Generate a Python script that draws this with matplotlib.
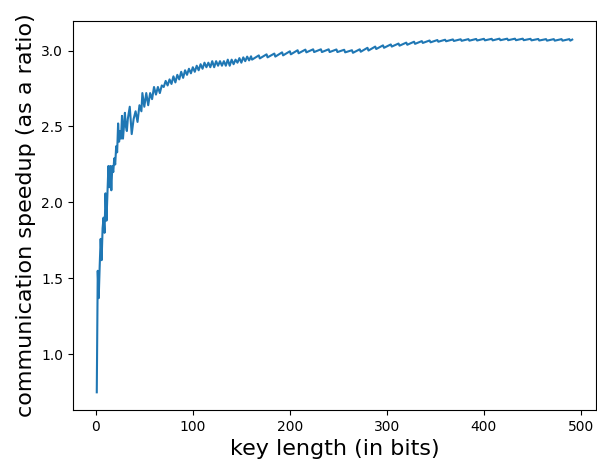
import matplotlib
matplotlib.use("Agg")
import matplotlib.pyplot as plt

# ============================================================
# DATA
# ============================================================

key_len = [
    1, 2, 3, 4, 5, 6, 7, 8, 9, 10, 11, 12, 13, 14, 15, 16, 17, 18, 19, 20,
    21, 22, 23, 24, 25, 26, 27, 28, 29, 30, 31, 32, 33, 35, 37, 39, 41, 43,
    45, 47, 48, 50, 52, 54, 56, 58, 60,
    62, 64, 66, 68, 70, 72, 74, 76, 78, 80,
    82, 84, 86, 88, 90, 92, 94, 96, 98, 100,
    102, 104, 106, 108, 110, 112, 114, 116, 118, 120,
    122, 124, 126, 128, 130, 132, 134, 136, 138, 140,
    142, 144, 146, 148, 150, 152, 154, 156, 158,
    160, 161, 168, 169, 176, 177, 184, 185, 192, 193,
    200, 201, 208, 209, 216, 217, 224, 225, 232, 233,
    240, 241, 248, 249, 256, 257, 264, 265, 272, 273,
    280, 281, 288, 289, 296, 297, 304, 305, 312, 313,
    320, 321, 328, 329, 336, 337, 344, 345, 352, 353,
    360, 361, 368, 369, 376, 377, 384, 385, 392, 393,
    400, 401, 408, 409, 416, 417, 424, 425, 432, 433,
    440, 441, 448, 449, 456, 457, 464, 465, 472, 473,
    480, 481, 488, 489,
    491,
]

speedup = [
    0.75, 1.55, 1.37, 1.58, 1.76, 1.62, 1.83, 1.90, 1.80, 2.06, 1.88, 2.06,
    2.24, 2.10, 2.24, 2.08, 2.24, 2.20, 2.29, 2.25,
    2.37, 2.33, 2.52, 2.40, 2.47, 2.42, 2.57, 2.42, 2.50, 2.59, 2.50, 2.47,
    2.55, 2.63, 2.45, 2.55, 2.60, 2.53,
    2.64, 2.60, 2.72, 2.63, 2.72, 2.64, 2.72, 2.68, 2.76,
    2.71, 2.76, 2.72, 2.77, 2.76, 2.80, 2.77, 2.81, 2.78, 2.83,
    2.79, 2.84, 2.81, 2.86, 2.82, 2.87, 2.84, 2.88, 2.85, 2.89,
    2.86, 2.90, 2.87, 2.91, 2.88, 2.92, 2.89, 2.92, 2.89, 2.93,
    2.89, 2.93, 2.90, 2.93, 2.90, 2.93, 2.90, 2.94, 2.90, 2.94,
    2.91, 2.94, 2.92, 2.95, 2.92, 2.955, 2.93, 2.96, 2.935,
    2.962, 2.940, 2.968, 2.948, 2.975, 2.955, 2.980, 2.960, 2.988, 2.968,
    2.995, 2.975, 3.002, 2.982, 3.006, 2.988, 3.008, 2.990, 3.008, 2.990,
    3.008, 2.990, 3.007, 2.990, 3.005, 2.988, 3.002, 2.985, 3.008, 2.992,
    3.018, 3.000, 3.026, 3.010, 3.034, 3.018, 3.040, 3.026, 3.046, 3.032,
    3.052, 3.038, 3.058, 3.044, 3.062, 3.050, 3.066, 3.054, 3.069, 3.058,
    3.071, 3.061, 3.073, 3.063, 3.074, 3.064, 3.075, 3.065, 3.076, 3.066,
    3.077, 3.067, 3.077, 3.067, 3.078, 3.068, 3.078, 3.068, 3.078, 3.068,
    3.078, 3.068, 3.077, 3.067, 3.076, 3.066, 3.075, 3.065, 3.075, 3.065,
    3.075, 3.065, 3.075, 3.065,
    3.072,
]

# ============================================================
# PLOT
# ============================================================

fig = plt.figure(figsize=(5.97, 4.63), dpi=100)

ax = fig.add_axes([73 / 597, 53 / 463, 523 / 597, 389 / 463])

ax.plot(key_len, speedup, color="C0", linewidth=1.5)

ax.set_xticks([0, 100, 200, 300, 400, 500])
ax.set_yticks([1.0, 1.5, 2.0, 2.5, 3.0])

ax.set_xlabel("key length (in bits)", fontsize=16)
ax.set_ylabel("communication speedup (as a ratio)", fontsize=16)

fig.savefig("out.png", dpi=100)
